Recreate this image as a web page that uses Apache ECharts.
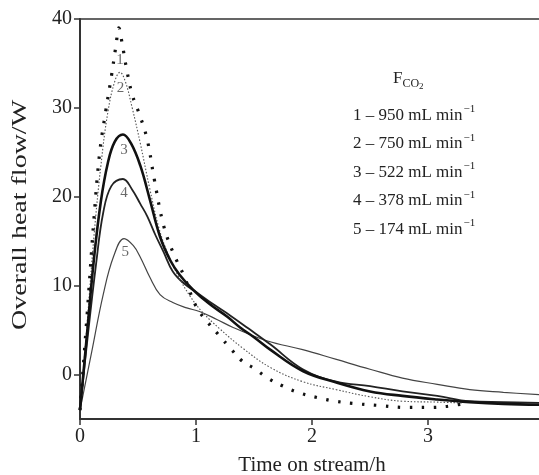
<!DOCTYPE html>
<html>
<head>
<meta charset="utf-8">
<script src="https://cdn.jsdelivr.net/npm/echarts@6/dist/echarts.min.js"></script>
<style>html,body{margin:0;padding:0;background:#fff;}#c{width:539px;height:475px;}</style>
</head>
<body>
<div id="c"></div>
<script>
// Curve 1: 950 mL/min
var time1 = [0, 0.06, 0.12, 0.17, 0.22, 0.27, 0.31, 0.335, 0.36, 0.40, 0.45, 0.52, 0.58, 0.64, 0.72, 0.80, 0.90, 1.0, 1.1, 1.2, 1.3, 1.4, 1.5, 1.62, 1.75, 1.9, 2.05, 2.2, 2.4, 2.6, 2.8, 3.0, 3.15, 3.3];
var heat1 = [-4, 6.5, 17.5, 25, 29.5, 33.5, 37, 39, 37.5, 34.5, 31.5, 29, 26.4, 22, 16.8, 13.8, 11, 7.7, 5.9, 4.4, 2.9, 1.5, 0.7, -0.4, -1.3, -2.1, -2.6, -3.0, -3.3, -3.5, -3.7, -3.7, -3.6, -3.3];
// Curve 2: 750 mL/min
var time2 = [0, 0.06, 0.12, 0.18, 0.24, 0.30, 0.345, 0.39, 0.45, 0.52, 0.6, 0.68, 0.76, 0.85, 0.95, 1.05, 1.2, 1.4, 1.64, 1.92, 2.21, 2.5, 2.78, 3.08, 3.3];
var heat2 = [-4, 5.5, 15.5, 23.5, 29.5, 33, 34, 33, 30, 26, 21, 16.5, 13.5, 11, 8.8, 7.1, 5.2, 3.0, 0.8, -0.8, -1.7, -2.5, -3.0, -3.1, -3.2];
// Curve 3: 522 mL/min
var time3 = [0, 0.06, 0.12, 0.18, 0.24, 0.30, 0.37, 0.44, 0.52, 0.6, 0.69, 0.78, 0.86, 0.97, 1.12, 1.27, 1.38, 1.5, 1.64, 1.92, 2.21, 2.5, 2.78, 3.08, 3.36, 3.65, 4.0];
var heat3 = [-4, 4.5, 13, 19.5, 23.8, 26.2, 27, 26, 23.5, 19.8, 15.5, 12.8, 11.2, 9.6, 7.9, 6.5, 5.3, 4.2, 2.8, 0.4, -0.9, -1.9, -2.4, -2.8, -3.1, -3.3, -3.4];
// Curve 4: 378 mL/min
var time4 = [0, 0.06, 0.14, 0.2, 0.27, 0.37, 0.45, 0.52, 0.58, 0.65, 0.72, 0.8, 0.9, 1.0, 1.15, 1.3, 1.45, 1.64, 1.92, 2.21, 2.5, 2.78, 3.08, 3.36, 3.65, 4.0];
var heat4 = [-4, 3.5, 12.6, 18.2, 21.2, 22, 20.8, 19.2, 17.8, 15.7, 13.8, 11.6, 10.2, 9.3, 7.9, 6.6, 5.2, 3.4, 0.6, -0.8, -1.3, -1.9, -2.4, -3.0, -3.1, -3.2];
// Curve 5: 174 mL/min
var time5 = [0, 0.1, 0.2, 0.29, 0.38, 0.46, 0.52, 0.6, 0.69, 0.8, 0.92, 1.03, 1.18, 1.32, 1.61, 1.92, 2.21, 2.5, 2.78, 3.08, 3.36, 3.65, 4.0];
var heat5 = [-4, 2.5, 9, 13.3, 15.3, 14.5, 13.2, 11, 9, 8.1, 7.5, 7.1, 6.2, 5.3, 3.8, 2.8, 1.7, 0.6, -0.4, -1.1, -1.7, -2.0, -2.3];

// Curve number labels placed near peaks
var curveNames = ['1', '2', '3', '4', '5'];
var labelTime = [0.345, 0.35, 0.38, 0.38, 0.39];
var labelHeat = [35.4, 32.2, 25.3, 20.4, 13.8];

var flowRates = ['950', '750', '522', '378', '174'];
var xTicks = [0, 1, 2, 3];
var yTicks = [0, 10, 20, 30, 40];
var xTitle = 'Time on stream/h';
var yTitle = 'Overall heat flow/W';

var FONT = '"Liberation Serif", "Times New Roman", serif';

function pairs(xs, ys) { return xs.map(function (x, i) { return [x, ys[i]]; }); }

var chart = echarts.init(document.getElementById('c'), null, { renderer: 'canvas' });

var legendGraphics = [{
  type: 'text', left: 393, top: 70,
  style: {
    text: '{f|F}{s|CO}{ss|2}', fill: '#222',
    rich: {
      f: { fontFamily: FONT, fontSize: 17, fill: '#222' },
      s: { fontFamily: FONT, fontSize: 12, fill: '#222', padding: [10, 0, 0, 0] },
      ss: { fontFamily: FONT, fontSize: 9, fill: '#222', padding: [16, 0, 0, 0] }
    }
  }
}];
flowRates.forEach(function (r, i) {
  legendGraphics.push({
    type: 'text', left: 353, top: 104 + i * 28.5,
    style: {
      text: '{t|' + curveNames[i] + ' – ' + r + ' mL min}{sup|−1}', fill: '#222',
      rich: {
        t: { fontFamily: FONT, fontSize: 17, fill: '#222' },
        sup: { fontFamily: FONT, fontSize: 11, fill: '#222', padding: [0, 0, 12, 1] }
      }
    }
  });
});
// y-axis title (stretched along its length like the reference)
legendGraphics.push({
  type: 'text', x: 21, y: 215, rotation: Math.PI / 2, scaleX: 1.4, scaleY: 1,
  style: { text: yTitle, fontFamily: FONT, fontSize: 20, fill: '#222', align: 'center', verticalAlign: 'middle' }
});

var lineCommon = { type: 'line', showSymbol: false, smooth: 0.4, animation: false };

chart.setOption({
  animation: false,
  backgroundColor: '#fff',
  grid: { left: 80, top: 19, width: 464, height: 400, outerBoundsMode: 'none', containLabel: false,
    show: true, borderColor: '#333', borderWidth: 1.5, backgroundColor: 'transparent' },
  xAxis: {
    type: 'value', min: 0, max: 4,
    name: xTitle, nameLocation: 'middle', nameGap: 36,
    nameTextStyle: { fontFamily: FONT, fontSize: 21, color: '#222' },
    axisLine: { show: true, onZero: false, lineStyle: { color: '#333', width: 2 } },
    axisTick: { show: true, inside: false, length: 6, customValues: xTicks, lineStyle: { color: '#333', width: 1.5 } },
    axisLabel: { customValues: xTicks, fontFamily: FONT, fontSize: 20, color: '#222', margin: 8 },
    splitLine: { show: false }
  },
  yAxis: {
    type: 'value', min: -5, max: 40,
    axisLine: { show: true, onZero: false, lineStyle: { color: '#333', width: 2 } },
    axisTick: { show: true, inside: false, length: 6, customValues: yTicks, lineStyle: { color: '#333', width: 1.5 } },
    axisLabel: { customValues: yTicks, fontFamily: FONT, fontSize: 20, color: '#222', margin: 8 },
    splitLine: { show: false }
  },
  graphic: legendGraphics,
  series: [
    Object.assign({}, lineCommon, { name: '1', data: pairs(time1, heat1), z: 5,
      lineStyle: { color: '#111', width: 3.2, type: [2.5, 9.5] } }),
    Object.assign({}, lineCommon, { name: '2', data: pairs(time2, heat2), z: 4,
      lineStyle: { color: '#555', width: 1.1, type: [1.5, 1.8] } }),
    Object.assign({}, lineCommon, { name: '3', data: pairs(time3, heat3), z: 6,
      lineStyle: { color: '#111', width: 2.6 } }),
    Object.assign({}, lineCommon, { name: '4', data: pairs(time4, heat4), z: 3,
      lineStyle: { color: '#222', width: 1.8 } }),
    Object.assign({}, lineCommon, { name: '5', data: pairs(time5, heat5), z: 2,
      lineStyle: { color: '#444', width: 1.2 } }),
    {
      type: 'scatter', name: 'labels', symbolSize: 0, animation: false, z: 10,
      data: curveNames.map(function (n, i) { return [labelTime[i], labelHeat[i], n]; }),
      label: { show: true, position: 'inside', formatter: function (p) { return p.value[2]; },
        fontFamily: FONT, fontSize: 15, color: '#444' }
    }
  ]
});
</script>
</body>
</html>
